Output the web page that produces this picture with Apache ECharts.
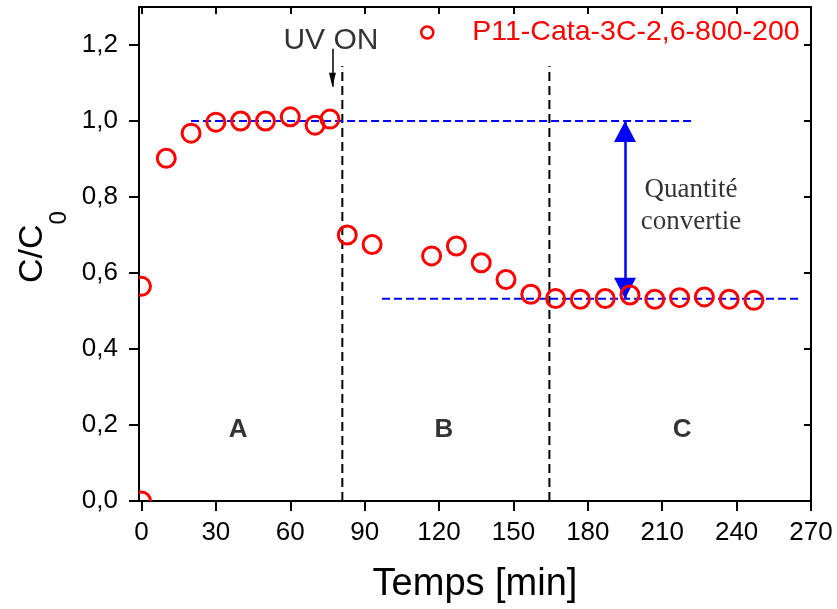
<!DOCTYPE html>
<html><head><meta charset="utf-8">
<script src="https://cdn.jsdelivr.net/npm/echarts@6/dist/echarts.min.js"></script>
<style>html,body{margin:0;padding:0;background:#fff}#c{width:837px;height:609px}</style>
</head><body><div id="c"></div>
<script>
const seriesName = 'P11-Cata-3C-2,6-800-200';
const time  = [0, 0, 10, 20, 30, 40, 50, 60, 70, 76, 83, 93, 117, 127, 137, 147, 157, 167, 177, 187, 197, 207, 217, 227, 237, 247];
const ratio = [0, 0.565, 0.902, 0.968, 0.997, 1.0, 1.0, 1.011, 0.989, 1.005, 0.700, 0.675, 0.645, 0.671, 0.627, 0.583, 0.544, 0.533, 0.531, 0.533, 0.542, 0.531, 0.535, 0.537, 0.531, 0.528];
const xTicks = [0, 30, 60, 90, 120, 150, 180, 210, 240, 270];
const yTicks = [0, 0.2, 0.4, 0.6, 0.8, 1.0, 1.2];
const phaseX = [81, 164.5];
const phaseTop = 1.145;
const initialLevel = 1.0;
const initialSpan = [20, 223];
const finalLevel = 0.532;
const finalSpan = [97, 265];
const arrowX = 195;
const uvArrowX = 77;
const uvArrowSpan = [1.19, 1.09];
const phaseLabels = ['A', 'B', 'C'];
const phaseLabelX = [39, 122, 218];
const phaseLabelY = 0.186;
const uvLabel = 'UV ON';
const uvLabelPos = [76.4, 1.21];
const convLabel = 'Quantité\nconvertie';
const convLabelPos = [221.6, 0.776];

const SANS = '"Liberation Sans", Arial, sans-serif';
const SERIF = '"Liberation Serif", "Times New Roman", serif';

const chart = echarts.init(document.getElementById('c'), null, {renderer: 'canvas'});

function axisLine() { return {show: true, onZero: false, lineStyle: {color: '#000', width: 2}}; }
function tickStyle() { return {color: '#000', width: 2}; }

const series = [];

phaseX.forEach((x, i) => {
  series.push({
    type: 'line', name: 'phase' + i, silent: true, showSymbol: false, symbol: 'none', z: 2,
    data: [[x, 0], [x, phaseTop]],
    lineStyle: {color: '#000', width: 2, type: [9, 5]}
  });
});
series.push({
  type: 'line', name: 'initial', silent: true, showSymbol: false, symbol: 'none', z: 2,
  data: [[initialSpan[0], initialLevel], [initialSpan[1], initialLevel]],
  lineStyle: {color: '#0000ff', width: 2, type: [8, 4]}
});
series.push({
  type: 'line', name: 'final', silent: true, showSymbol: false, symbol: 'none', z: 2,
  data: [[finalSpan[0], finalLevel], [finalSpan[1], finalLevel]],
  lineStyle: {color: '#0000ff', width: 2, type: [8, 4]}
});
series.push({
  type: 'line', name: 'arrows', silent: true, data: [], z: 3,
  markLine: {
    silent: true, animation: false,
    label: {show: false},
    data: [
      [{coord: [arrowX, finalLevel], symbol: 'triangle', symbolSize: [22, 21], symbolOffset: [0, 10.5],
        lineStyle: {color: '#0000ff', width: 2.5, type: 'solid'}, itemStyle: {color: '#0000ff'}},
       {coord: [arrowX, initialLevel], symbol: 'triangle', symbolSize: [22, 21], symbolOffset: [0, 10.5]}],
      [{coord: [uvArrowX, uvArrowSpan[0]], symbol: 'none',
        lineStyle: {color: '#000', width: 1.5, type: 'solid'}, itemStyle: {color: '#000'}},
       {coord: [uvArrowX, uvArrowSpan[1]], symbol: 'triangle', symbolSize: [7, 14], symbolOffset: [0, 7]}]
    ]
  }
});
series.push({
  type: 'custom', name: seriesName, z: 5, clip: true,
  data: time.map((t, i) => [t, ratio[i]]),
  encode: {x: 0, y: 1},
  itemStyle: {color: '#ff0000'},
  renderItem: function (params, api) {
    const p = api.coord([api.value(0), api.value(1)]);
    return {
      type: 'circle',
      shape: {cx: p[0], cy: p[1], r: 9},
      style: {fill: 'none', stroke: '#ff0000', lineWidth: 3}
    };
  }
});
const annData = [];
phaseLabels.forEach((t, i) => annData.push({
  value: [phaseLabelX[i], phaseLabelY],
  label: {formatter: t, fontSize: 26, fontWeight: 'bold', fontFamily: SANS, color: '#000'}
}));
annData.push({value: uvLabelPos, label: {formatter: uvLabel, fontSize: 30, fontFamily: SANS, color: '#000'}});
annData.push({value: convLabelPos, label: {formatter: convLabel, fontSize: 27, lineHeight: 32, fontFamily: SERIF, color: '#000', align: 'center'}});
series.push({
  type: 'scatter', name: 'annotations', silent: true, z: 6, clip: false,
  symbolSize: 1, itemStyle: {color: 'rgba(0,0,0,0)'},
  label: {show: true, position: 'inside', color: '#000'},
  data: annData
});

chart.setOption({
  animation: false,
  backgroundColor: '#fff',
  grid: {left: 139, right: 26, top: 7, bottom: 106},
  legend: {
    data: [{name: seriesName, icon: 'circle'}], left: 415, top: 13, itemWidth: 12, itemHeight: 12,
    itemStyle: {color: 'rgba(0,0,0,0)', borderColor: '#ff0000', borderWidth: 2.5},
    textStyle: {color: '#ff0000', fontSize: 28.5, fontFamily: SANS, padding: [0, 0, 0, 34]},
    selectedMode: false
  },
  xAxis: [
    {
      type: 'value', min: -1, max: 270, position: 'bottom',
      name: 'Temps [min]', nameLocation: 'middle', nameGap: 65,
      nameTextStyle: {fontSize: 38, color: '#000', fontFamily: SANS},
      axisLine: axisLine(),
      axisTick: {show: true, inside: false, length: 10, lineStyle: tickStyle(), customValues: xTicks},
      axisLabel: {customValues: xTicks, fontSize: 26, color: '#000', fontFamily: SANS, margin: 19},
      splitLine: {show: false}
    },
    {
      type: 'value', min: -1, max: 270, position: 'top',
      axisLine: axisLine(),
      axisTick: {show: true, inside: true, length: 7, lineStyle: tickStyle(), customValues: xTicks},
      axisLabel: {show: false},
      splitLine: {show: false}
    }
  ],
  yAxis: [
    {
      type: 'value', min: 0, max: 1.3, position: 'left',
      name: '{a|C/C}{b|0}', nameLocation: 'middle', nameGap: 76, nameRotate: 90,
      nameTextStyle: {
        color: '#000', fontFamily: SANS,
        rich: {
          a: {fontSize: 34, lineHeight: 36, verticalAlign: 'top', fontFamily: SANS, color: '#000', padding: [0, 0, 0, 14]},
          b: {fontSize: 24, lineHeight: 24, verticalAlign: 'top', fontFamily: SANS, color: '#000', padding: [31, 0, 0, 0]}
        }
      },
      axisLine: axisLine(),
      axisTick: {show: true, inside: false, length: 10, lineStyle: tickStyle(), customValues: yTicks},
      axisLabel: {customValues: yTicks, fontSize: 26, color: '#000', fontFamily: SANS, margin: 21,
        formatter: v => v.toFixed(1).replace('.', ',')},
      splitLine: {show: false}
    },
    {
      type: 'value', min: 0, max: 1.3, position: 'right',
      axisLine: axisLine(),
      axisTick: {show: true, inside: true, length: 7, lineStyle: tickStyle(), customValues: yTicks},
      axisLabel: {show: false},
      splitLine: {show: false}
    }
  ],
  series: series
});
</script>
</body></html>
